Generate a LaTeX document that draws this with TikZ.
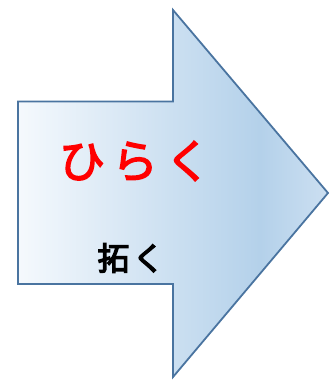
\documentclass[tikz,border=0pt]{standalone}
\usepackage{fontspec}
\newfontfamily\jpr[FakeBold=3]{Noto Sans CJK JP}
\newfontfamily\jpb[FakeBold=4]{Noto Sans CJK JP}
\definecolor{arrowline}{HTML}{4A74A0}
\definecolor{gA}{HTML}{F5F9FD}
\definecolor{gB}{HTML}{B4D1EA}
\definecolor{gC}{HTML}{CCDFF1}
\definecolor{jpred}{HTML}{FF0000}
\pgfdeclarehorizontalshading{arrowshade}{100bp}{color(0bp)=(gA); color(25bp)=(gA); color(64bp)=(gB); color(75bp)=(gC); color(100bp)=(gC)}
\tikzset{
  arrowshape/.style={draw=arrowline, line width=1.8pt, line join=miter, shading=arrowshade},
  redtext/.style={text=jpred, font=\jpr\fontsize{46}{46}\selectfont, inner sep=0pt},
  blacktext/.style={text=black, font=\jpb\fontsize{32}{32}\selectfont, inner sep=0pt}
}
\begin{document}
\begin{tikzpicture}[x=1pt,y=-1pt]
\useasboundingbox (0,0) rectangle (331,390);
\path[arrowshape] (18,101.5) -- (173,101.5) -- (173,10) -- (328,193) -- (173,377) -- (173,284) -- (18,284) -- cycle;
\node[redtext] (hiraku) at (135,161) {ひ\hspace{7pt}ら\hspace{7pt}く};
\node[blacktext] (hiraku2) at (131,258) {拓\hspace{3pt}く};
\end{tikzpicture}
\end{document}
